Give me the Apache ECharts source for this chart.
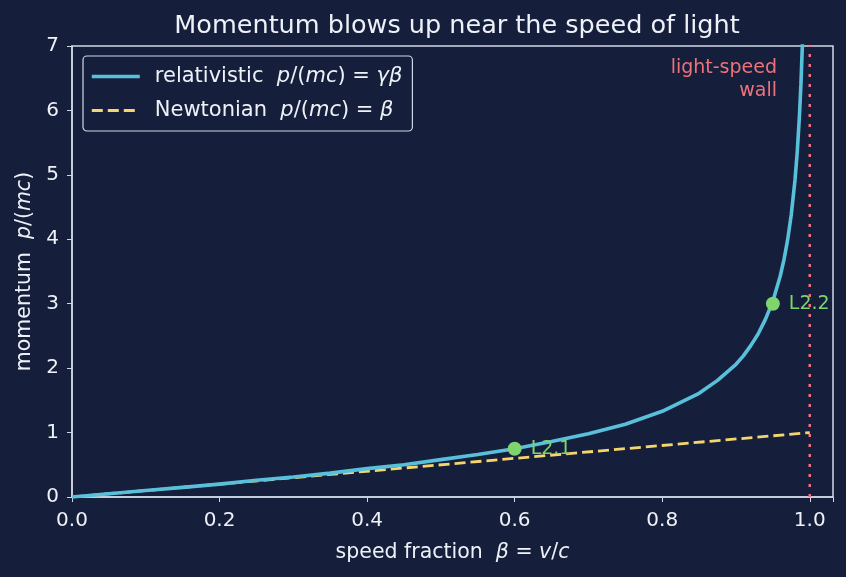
<!DOCTYPE html>
<html>
<head>
<meta charset="utf-8">
<script src="https://cdn.jsdelivr.net/npm/echarts@6/dist/echarts.min.js"></script>
<style>
  html, body { margin: 0; padding: 0; background: #151f3b; }
  #chart { width: 846px; height: 577px; }
</style>
</head>
<body>
<div id="chart"></div>
<script>
// speed fraction beta and p/(mc)
var betaVals = [0, 0.05, 0.1, 0.15, 0.2, 0.25, 0.3, 0.35, 0.4, 0.45, 0.5, 0.55, 0.6, 0.65, 0.7, 0.75, 0.8, 0.85, 0.875, 0.9, 0.91, 0.92, 0.93, 0.94, 0.95, 0.96, 0.965, 0.97, 0.975, 0.98, 0.983, 0.986, 0.988, 0.99, 0.992];
var relMomentum = [0, 0.05, 0.10, 0.15, 0.20, 0.26, 0.31, 0.37, 0.44, 0.50, 0.58, 0.66, 0.75, 0.86, 0.98, 1.13, 1.33, 1.61, 1.81, 2.06, 2.19, 2.35, 2.53, 2.76, 3.04, 3.43, 3.68, 3.99, 4.39, 4.92, 5.35, 5.91, 6.40, 7.02, 7.86];
var newtBeta = [0, 1];
var newtMomentum = [0, 1];
var markerBeta = [0.6, 0.95];
var markerMomentum = [0.75, 3.0];
var markerNames = ['L2.1', 'L2.2'];
var xTicks = [0, 0.2, 0.4, 0.6, 0.8, 1.0];

var bg = '#151f3b';
var fg = '#eef1f7';
var spine = '#d0d7e6';
var font = 'DejaVu Sans';
var relColor = '#58c0da';
var newtColor = '#f4d66c';

function pairs(xs, ys) {
  var out = [];
  for (var i = 0; i < xs.length; i++) out.push([xs[i], ys[i]]);
  return out;
}

function italic(size) {
  return { fontStyle: 'italic', fontFamily: font, fontSize: size, color: fg };
}

var chart = echarts.init(document.getElementById('chart'));
chart.setOption({
  backgroundColor: bg,
  textStyle: { fontFamily: font },
  animation: false,
  title: {
    text: 'Momentum blows up near the speed of light',
    left: 452,
    textAlign: 'center',
    top: 8,
    textStyle: { color: fg, fontSize: 25.5, fontWeight: 'normal', fontFamily: font }
  },
  grid: {
    left: 72, right: 13, top: 46, bottom: 80,
    show: true, borderColor: spine, borderWidth: 1.5, backgroundColor: 'transparent'
  },
  legend: {
    left: 83, top: 56,
    orient: 'vertical',
    padding: [10, 10, 10, 7],
    itemGap: 13,
    itemWidth: 48,
    itemHeight: 12,
    backgroundColor: bg,
    borderColor: spine,
    borderWidth: 1.2,
    borderRadius: 4,
    itemStyle: { opacity: 0 },
    data: [
      { name: 'relativistic', lineStyle: { width: 3.6, color: relColor } },
      { name: 'Newtonian', lineStyle: { width: 3, color: newtColor, type: [11, 5] } }
    ],
    formatter: function (name) {
      if (name === 'relativistic') return 'relativistic  {i|p}/({i|mc}) = {i|γβ}';
      return 'Newtonian  {i|p}/({i|mc}) = {i|β}';
    },
    textStyle: { color: fg, fontSize: 21, fontFamily: font, padding: [0, 0, 0, 10], rich: { i: italic(21) } }
  },
  xAxis: {
    type: 'value',
    min: 0, max: 1.0315, interval: 0.2,
    name: 'speed fraction  {i|β} = {i|v}/{i|c}',
    nameLocation: 'middle', nameGap: 45,
    nameTextStyle: { color: fg, fontSize: 20.5, rich: { i: italic(20.5) } },
    axisLine: { show: true, lineStyle: { color: spine, width: 1.5 } },
    axisTick: { show: true, inside: false, length: 5, lineStyle: { color: spine } },
    splitLine: { show: false },
    axisLabel: {
      color: fg, fontSize: 20, margin: 14,
      formatter: function (v) {
        for (var i = 0; i < xTicks.length; i++) if (Math.abs(v - xTicks[i]) < 1e-6) return v.toFixed(1);
        return '';
      }
    }
  },
  yAxis: {
    type: 'value',
    min: 0, max: 7, interval: 1,
    name: 'momentum  {i|p}/({i|mc})',
    nameLocation: 'middle', nameGap: 36,
    nameTextStyle: { color: fg, fontSize: 20.5, rich: { i: italic(20.5) } },
    axisLine: { show: true, lineStyle: { color: spine, width: 1.5 } },
    axisTick: { show: true, length: 5, lineStyle: { color: spine } },
    splitLine: { show: false },
    axisLabel: { color: fg, fontSize: 20, margin: 13 }
  },
  series: [
    {
      name: 'wall',
      type: 'line',
      data: [[1, 0], [1, 7]],
      symbol: 'none',
      silent: true,
      lineStyle: { color: '#f0717a', width: 2.5, type: [3, 7] },
      z: 1
    },
    {
      name: 'Newtonian',
      type: 'line',
      data: pairs(newtBeta, newtMomentum),
      symbol: 'none',
      lineStyle: { color: newtColor, width: 2.8, type: [11, 5] },
      itemStyle: { color: newtColor },
      z: 2
    },
    {
      name: 'relativistic',
      type: 'line',
      data: pairs(betaVals, relMomentum),
      symbol: 'none',
      smooth: false,
      clip: true,
      lineStyle: { color: relColor, width: 3.6 },
      itemStyle: { color: relColor },
      z: 3
    },
    {
      name: 'markers',
      type: 'scatter',
      data: pairs(markerBeta, markerMomentum).map(function (p, i) {
        return { value: p, name: markerNames[i] };
      }),
      symbolSize: 14,
      itemStyle: { color: '#7fd46e', opacity: 1 },
      label: {
        show: true, position: 'right', distance: 9,
        formatter: '{b}', color: '#7fd46e', fontSize: 19, fontFamily: font
      },
      z: 4
    }
  ],
  graphic: [{
    type: 'text',
    x: 777,
    y: 57,
    style: {
      text: 'light-speed\nwall',
      fill: '#f0717a',
      fontSize: 19,
      fontFamily: font,
      align: 'right',
      verticalAlign: 'top',
      lineHeight: 23
    }
  }]
});
</script>
</body>
</html>
